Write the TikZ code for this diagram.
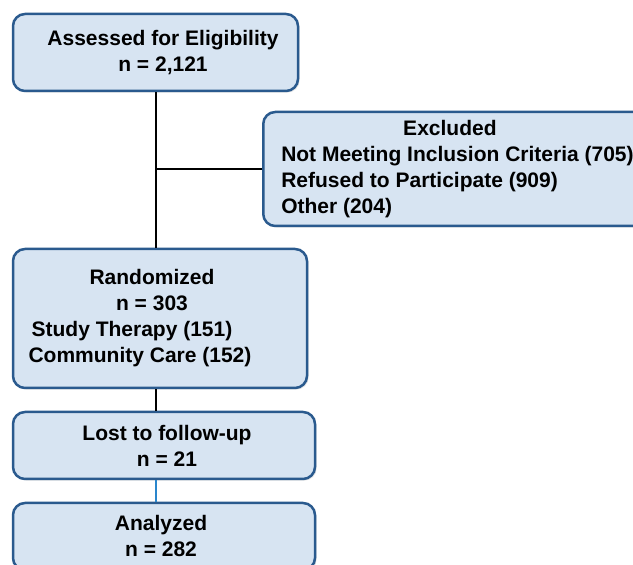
\documentclass[tikz,border=0pt]{standalone}
\usepackage{fontspec}
\setmainfont{Liberation Sans}
\usetikzlibrary{shadows}
\definecolor{boxedge}{HTML}{2A5A8E}
\definecolor{boxfill}{HTML}{D7E4F2}
\definecolor{linkblue}{HTML}{2A86CC}
\begin{document}
\begin{tikzpicture}[x=0.5pt,y=-0.5pt]

\tikzset{flowbox/.style = {draw=boxedge, fill=boxfill, line width=1.25pt, rounded corners=6pt,
    align=center, inner sep=3pt, font=\fontsize{10.5pt}{13pt}\selectfont\bfseries,
    drop shadow={opacity=0.2, shadow xshift=0.8pt, shadow yshift=-0.8pt}}}
\tikzset{link/.style = {line width=1pt}}

\useasboundingbox (0,0) rectangle (633,565);
\clip (0,0) rectangle (633,565);

\node[flowbox, minimum width=142.5pt, minimum height=38.5pt] (assess) at (155.5,52.5)
  {\mbox{\hspace{7.5pt}Assessed for Eligibility}\\ \mbox{\hspace{7.5pt}n = 2,121}};
\node[flowbox, anchor=west, align=left, inner xsep=9pt, minimum height=57pt] (excl) at (262,169)
  {\mbox{\hspace{61pt}Excluded}\\Not Meeting Inclusion Criteria (705)\\Refused to Participate (909)\\Other (204)};
\node[flowbox, minimum width=147pt, minimum height=69.5pt] (random) at (160,318.5)
  {\mbox{Randomized\hspace{8pt}}\\ \mbox{n = 303\hspace{8pt}}\\ \mbox{Study Therapy (151)\hspace{28pt}}\\ \mbox{Community Care (152)\hspace{20pt}}};
\node[flowbox, minimum width=151pt, minimum height=33.5pt] (lost) at (164,445.5)
  {\mbox{\hspace{3pt}Lost to follow-up}\\ \mbox{\hspace{3pt}n = 21}};
\node[flowbox, minimum width=151pt, minimum height=33.5pt] (analyzed) at (164,536.5)
  {\mbox{Analyzed\hspace{3pt}}\\ \mbox{n = 282\hspace{3pt}}};

\draw[link] (assess.south) -- (assess.south |- random.north);
\draw[link] (excl.west) -- (excl.west -| assess.south);
\draw[link] (random.south -| assess.south) -- (lost.north -| assess.south);
\draw[link, linkblue] (lost.south -| assess.south) -- (analyzed.north -| assess.south);

\end{tikzpicture}
\end{document}
